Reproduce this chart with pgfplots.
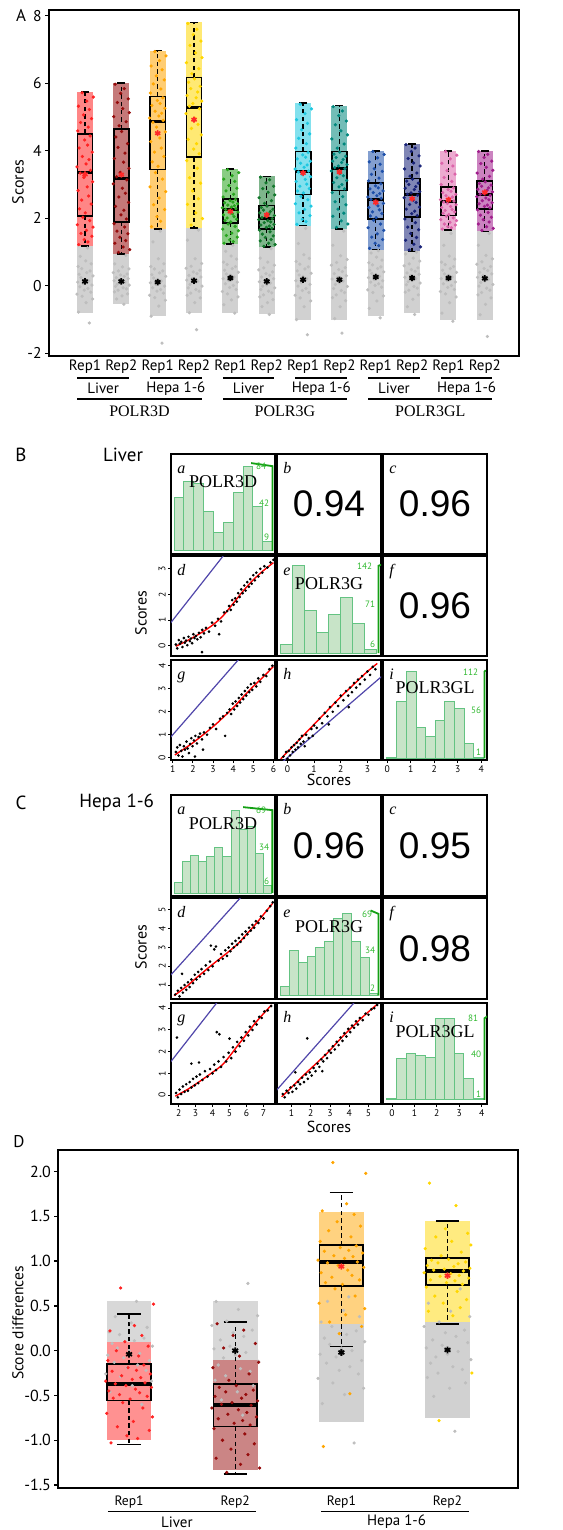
\documentclass[border=0pt]{standalone}
\usepackage{fontspec}
\setmainfont{PT Sans}
\newfontfamily\serf{Liberation Serif}
\newfontfamily\helv{Liberation Sans}
\usepackage{pgfplots}
\usepackage{pgfplotstable}
\usepgfplotslibrary{statistics}
\pgfplotsset{compat=1.18}

\definecolor{cA1}{RGB}{255,35,35}
\definecolor{cA2}{RGB}{150,12,12}
\definecolor{cA3}{RGB}{255,165,0}
\definecolor{cA4}{RGB}{255,215,0}
\definecolor{cA5}{RGB}{40,165,30}
\definecolor{cA6}{RGB}{20,120,45}
\definecolor{cA7}{RGB}{30,200,225}
\definecolor{cA8}{RGB}{0,135,125}
\definecolor{cA9}{RGB}{30,80,170}
\definecolor{cA10}{RGB}{25,35,120}
\definecolor{cA11}{RGB}{220,100,170}
\definecolor{cA12}{RGB}{160,30,140}
\definecolor{cgray}{RGB}{190,190,190}
\definecolor{histfill}{RGB}{200,228,200}
\definecolor{histedge}{RGB}{100,195,130}
\definecolor{gline}{RGB}{20,160,20}
\definecolor{glab}{RGB}{50,185,50}
\definecolor{bline}{RGB}{80,70,170}
\definecolor{starred}{RGB}{255,40,40}

\newcommand{\lett}{\serf\itshape\fontsize{8}{8}\selectfont}
\newcommand{\gene}{\serf\fontsize{9}{9}\selectfont}
\newcommand{\corr}{\helv\fontsize{18.5}{18.5}\selectfont}
\newcommand{\glabf}{\fontsize{4.6}{5}\selectfont}

\pgfplotsset{
  boxplot/draw/lower whisker/.code={%
    \draw[dash pattern=on 2.2pt off 1.6pt, line width=0.65pt]
      (boxplot box cs:\pgfplotsboxplotvalue{lower quartile},0.5) --
      (boxplot box cs:\pgfplotsboxplotvalue{lower whisker},0.5);
    \draw[line width=0.8pt]
      (boxplot whisker cs:\pgfplotsboxplotvalue{lower whisker},0) --
      (boxplot whisker cs:\pgfplotsboxplotvalue{lower whisker},1);
  },
  boxplot/draw/upper whisker/.code={%
    \draw[dash pattern=on 2.2pt off 1.6pt, line width=0.65pt]
      (boxplot box cs:\pgfplotsboxplotvalue{upper quartile},0.5) --
      (boxplot box cs:\pgfplotsboxplotvalue{upper whisker},0.5);
    \draw[line width=0.8pt]
      (boxplot whisker cs:\pgfplotsboxplotvalue{upper whisker},0) --
      (boxplot whisker cs:\pgfplotsboxplotvalue{upper whisker},1);
  },
  pt/.style={only marks, mark=*, mark size=0.6pt},
  dots/.style={only marks, mark=*, mark size=0.45pt, black},
  hist/.style={ybar interval, fill=histfill, draw=histedge, line width=0.5pt},
  fit/.style={red, line width=0.7pt, smooth},
  mx/.style={anchor=north west, scale only axis, width=52pt,
    axis line style={line width=0.85pt},
    xtick=\empty, ytick=\empty, tick pos=left,
    tick align=outside, major tick length=1.5pt,
    tick style={black, line width=0.45pt},
    ticklabel style={font=\fontsize{4.8}{5}\selectfont, inner sep=1pt},
    yticklabel style={rotate=90, anchor=south}},
  mxB/.style={mx, height=50pt},
  mxC/.style={mx, height=50.5pt},
}

\newcommand{\bxp}[6]{\addplot[black, boxplot prepared={draw position=#1,
  lower whisker=#2, lower quartile=#3, median=#4, upper quartile=#5,
  upper whisker=#6}] coordinates {};}
% pale area under the dense part of a jittered point cloud
\newcommand{\cloud}[5]{\addplot[draw=none, fill=#1]
  coordinates {(#2,#4) (#3,#4) (#3,#5) (#2,#5)} -- cycle;}

\newcommand{\gaxis}[3]{%
  \draw[gline, line width=0.9pt] ({rel axis cs:0.975,0}|-{axis cs:0,0})
    -- ({rel axis cs:0.975,0}|-{axis cs:0,#1}) -- ++(-1.5pt,0);
  \node[anchor=east, text=glab, font=\glabf, inner sep=0.6pt]
    at ({rel axis cs:0.93,0}|-{axis cs:0,#1}) {#1};
  \node[anchor=south east, text=glab, font=\glabf, inner sep=0.6pt]
    at ({rel axis cs:0.96,0}|-{axis cs:0,#2}) {#2};
  \node[anchor=south east, text=glab, font=\glabf, inner sep=0.6pt]
    at ({rel axis cs:0.96,0}|-{axis cs:0,#3}) {#3};
}
\newcommand{\plett}[1]{\node[anchor=base west, font=\lett, inner sep=0pt]
  at ([xshift=3pt,yshift=-9.5pt]rel axis cs:0,1) {#1};}

% panel A: coloured points above threshold
\pgfplotstableread{
dx dxb y1 y2 y3 y4 y5 y6 y7 y8 y9 y10 y11 y12
-0.17 -0.08 1.22 0.99 1.75 1.80 1.26 1.17 1.82 1.73 1.11 1.06 1.68 1.64
0.08 0.23 1.30 1.07 1.91 1.99 1.31 1.22 1.90 1.83 1.19 1.15 1.72 1.70
-0.02 0.05 1.37 1.15 2.05 2.16 1.36 1.26 1.97 1.92 1.26 1.23 1.75 1.75
0.19 -0.18 1.47 1.26 2.26 2.41 1.44 1.33 2.08 2.06 1.37 1.35 1.80 1.83
-0.11 0.12 1.55 1.34 2.40 2.58 1.49 1.37 2.16 2.15 1.44 1.43 1.83 1.89
0.04 -0.04 1.64 1.44 2.60 2.81 1.56 1.43 2.26 2.27 1.54 1.55 1.88 1.96
0.22 0.18 1.74 1.54 2.79 3.04 1.63 1.48 2.36 2.40 1.64 1.66 1.93 2.03
-0.21 -0.12 1.81 1.62 2.93 3.20 1.68 1.53 2.43 2.49 1.72 1.74 1.96 2.09
0.13 0.09 1.93 1.74 3.16 3.48 1.76 1.60 2.55 2.64 1.83 1.87 2.01 2.17
-0.06 -0.20 2.03 1.84 3.35 3.71 1.83 1.65 2.65 2.76 1.94 1.98 2.06 2.25
0.01 0.14 2.16 1.98 3.54 3.91 1.89 1.70 2.75 2.87 2.02 2.08 2.11 2.31
-0.15 -0.01 2.28 2.10 3.67 4.05 1.93 1.73 2.81 2.93 2.07 2.14 2.15 2.35
0.17 0.07 2.42 2.24 3.83 4.21 1.97 1.77 2.88 3.00 2.14 2.21 2.19 2.39
-0.09 -0.16 2.54 2.35 3.96 4.34 2.01 1.80 2.95 3.06 2.19 2.27 2.23 2.43
0.10 0.20 2.66 2.47 4.08 4.47 2.05 1.82 3.01 3.12 2.25 2.33 2.26 2.46
-0.19 -0.07 2.82 2.63 4.27 4.66 2.10 1.87 3.09 3.20 2.32 2.41 2.32 2.52
0.06 0.11 2.93 2.74 4.38 4.78 2.13 1.89 3.15 3.26 2.37 2.47 2.35 2.55
0.21 0.03 3.08 2.89 4.56 4.96 2.18 1.93 3.23 3.34 2.44 2.54 2.40 2.60
-0.03 -0.22 3.21 3.02 4.70 5.10 2.22 1.96 3.30 3.40 2.50 2.61 2.44 2.64
-0.13 0.15 3.34 3.14 4.84 5.25 2.26 1.99 3.37 3.47 2.56 2.68 2.48 2.68
0.15 -0.13 3.42 3.23 4.90 5.32 2.28 2.02 3.40 3.50 2.59 2.71 2.51 2.71
-0.22 -0.03 3.52 3.36 4.97 5.40 2.31 2.05 3.46 3.55 2.63 2.75 2.55 2.74
0.03 0.21 3.61 3.48 5.03 5.47 2.33 2.08 3.51 3.59 2.67 2.79 2.58 2.78
0.11 0.06 3.74 3.66 5.11 5.57 2.37 2.13 3.58 3.65 2.73 2.85 2.63 2.83
-0.07 -0.19 3.83 3.77 5.17 5.64 2.39 2.16 3.63 3.69 2.76 2.89 2.67 2.86
0.20 0.10 3.96 3.93 5.26 5.74 2.43 2.20 3.69 3.74 2.81 2.94 2.71 2.90
-0.16 -0.09 4.08 4.10 5.34 5.84 2.46 2.24 3.76 3.80 2.87 3.00 2.76 2.95
0.07 0.17 4.17 4.21 5.40 5.91 2.48 2.27 3.81 3.84 2.90 3.04 2.80 2.98
-0.01 -0.15 4.32 4.41 5.49 6.03 2.52 2.32 3.88 3.90 2.96 3.10 2.85 3.03
0.14 0.01 4.44 4.57 5.57 6.13 2.56 2.36 3.95 3.96 3.02 3.16 2.90 3.08
-0.20 -0.06 4.59 4.74 5.71 6.28 2.63 2.44 4.08 4.08 3.11 3.25 3.00 3.16
0.09 0.13 4.70 4.86 5.83 6.43 2.71 2.52 4.21 4.20 3.19 3.34 3.09 3.24
-0.12 -0.21 4.84 5.01 5.98 6.61 2.81 2.61 4.37 4.35 3.30 3.46 3.21 3.34
0.18 0.22 4.95 5.13 6.10 6.76 2.89 2.69 4.50 4.47 3.39 3.55 3.31 3.42
-0.04 0.04 5.06 5.25 6.22 6.90 2.97 2.77 4.62 4.59 3.47 3.64 3.41 3.51
0.12 -0.11 5.22 5.43 6.40 7.12 3.09 2.88 4.81 4.77 3.60 3.77 3.55 3.62
-0.18 0.19 5.32 5.54 6.51 7.25 3.16 2.95 4.92 4.88 3.67 3.85 3.63 3.69
0.05 -0.02 5.47 5.70 6.67 7.44 3.26 3.05 5.10 5.04 3.79 3.98 3.76 3.80
0.23 0.08 5.59 5.84 6.81 7.60 3.35 3.14 5.24 5.18 3.89 4.08 3.87 3.89
-0.08 -0.17 5.72 5.97 6.94 7.77 3.44 3.22 5.38 5.31 3.98 4.18 3.98 3.98
}\Acol

% panel A: grey points below threshold
\pgfplotstableread{
dx dxb g1 g2 g3 g4 g5 g6 g7 g8 g9 g10 g11 g12
0.12 0.07 -1.10 -0.55 -1.70 -1.30 -0.81 -0.85 -1.45 -1.40 -0.95 -0.85 -1.05 -1.50
-0.18 -0.13 -0.78 -0.39 -0.90 -0.80 -0.56 -0.62 -1.00 -0.97 -0.67 -0.62 -0.81 -0.86
0.03 0.02 -0.50 -0.30 -0.60 -0.50 -0.42 -0.50 -0.62 -0.62 -0.45 -0.40 -0.50 -0.55
0.21 0.17 -0.39 -0.24 -0.43 -0.36 -0.33 -0.41 -0.45 -0.44 -0.30 -0.27 -0.33 -0.36
-0.08 -0.19 -0.31 -0.18 -0.35 -0.28 -0.24 -0.33 -0.36 -0.35 -0.20 -0.19 -0.24 -0.27
-0.22 -0.09 -0.25 -0.13 -0.28 -0.22 -0.17 -0.27 -0.28 -0.27 -0.12 -0.13 -0.17 -0.20
0.16 0.14 -0.19 -0.09 -0.22 -0.16 -0.11 -0.21 -0.20 -0.20 -0.04 -0.07 -0.11 -0.13
-0.02 0.05 -0.13 -0.06 -0.16 -0.11 -0.05 -0.16 -0.14 -0.14 0.01 -0.02 -0.05 -0.07
0.08 -0.16 -0.08 -0.02 -0.11 -0.06 0.01 -0.11 -0.08 -0.08 0.06 0.03 0.01 -0.01
-0.14 0.22 -0.03 0.02 -0.06 -0.01 0.06 -0.06 -0.01 -0.02 0.11 0.08 0.06 0.04
0.19 -0.11 0.02 0.05 -0.01 0.04 0.11 -0.01 0.04 0.04 0.15 0.12 0.11 0.10
-0.05 0.00 0.06 0.08 0.04 0.08 0.16 0.03 0.09 0.09 0.19 0.16 0.16 0.14
-0.20 0.10 0.11 0.11 0.09 0.13 0.21 0.08 0.15 0.14 0.24 0.21 0.21 0.19
0.10 -0.20 0.15 0.15 0.14 0.17 0.26 0.12 0.21 0.20 0.28 0.25 0.26 0.25
0.00 -0.05 0.20 0.18 0.18 0.22 0.31 0.17 0.27 0.25 0.33 0.30 0.31 0.30
-0.11 0.19 0.24 0.21 0.23 0.26 0.35 0.21 0.32 0.30 0.37 0.34 0.35 0.35
0.22 -0.14 0.29 0.24 0.28 0.31 0.40 0.26 0.37 0.36 0.41 0.38 0.40 0.40
-0.16 0.08 0.34 0.28 0.33 0.36 0.46 0.31 0.44 0.42 0.46 0.43 0.46 0.45
0.05 -0.02 0.39 0.32 0.38 0.41 0.51 0.36 0.50 0.48 0.51 0.48 0.51 0.51
0.14 0.16 0.44 0.35 0.44 0.46 0.57 0.41 0.56 0.54 0.56 0.53 0.57 0.57
-0.09 -0.22 0.51 0.39 0.50 0.52 0.63 0.47 0.64 0.61 0.62 0.59 0.63 0.64
-0.19 -0.08 0.57 0.44 0.57 0.58 0.70 0.53 0.72 0.69 0.68 0.65 0.70 0.71
0.17 0.21 0.65 0.50 0.65 0.66 0.79 0.61 0.81 0.78 0.76 0.73 0.79 0.80
0.02 0.03 0.74 0.56 0.80 0.80 0.88 0.70 0.92 0.89 0.85 0.82 0.88 0.90
-0.13 -0.18 0.87 0.65 1.30 1.35 1.02 0.82 1.25 1.20 0.97 0.94 1.20 1.20
0.07 0.12 1.12 0.90 1.62 1.65 1.20 1.10 1.70 1.62 1.04 1.00 1.55 1.55
}\Agry

% panel D: coloured and grey score differences
\pgfplotstableread{
dx dxb d1 d2 d3 d4
-0.17 -0.08 -1.03 -1.36 -1.07 -0.78
0.08 0.23 -0.98 -1.31 -0.48 -0.25
-0.02 0.05 -0.95 -1.27 0.19 0.39
0.19 -0.18 -0.89 -1.20 0.27 0.44
-0.11 0.12 -0.85 -1.16 0.32 0.48
0.04 -0.04 -0.79 -1.10 0.40 0.53
0.22 0.18 -0.74 -1.04 0.47 0.57
-0.21 -0.12 -0.70 -1.00 0.53 0.61
0.13 0.09 -0.64 -0.93 0.61 0.66
-0.06 -0.20 -0.58 -0.87 0.69 0.71
0.01 0.14 -0.54 -0.83 0.74 0.74
-0.15 -0.01 -0.53 -0.81 0.76 0.76
0.17 0.07 -0.51 -0.78 0.79 0.78
-0.09 -0.16 -0.49 -0.76 0.82 0.79
0.10 0.20 -0.47 -0.74 0.84 0.81
-0.19 -0.07 -0.45 -0.71 0.87 0.83
0.06 0.11 -0.43 -0.69 0.90 0.84
0.21 0.03 -0.41 -0.66 0.93 0.86
-0.03 -0.22 -0.39 -0.64 0.95 0.87
-0.13 0.15 -0.37 -0.61 0.98 0.89
0.15 -0.13 -0.36 -0.60 0.99 0.90
-0.22 -0.03 -0.34 -0.58 1.01 0.91
0.03 0.21 -0.32 -0.56 1.03 0.92
0.11 0.06 -0.30 -0.53 1.05 0.94
-0.07 -0.19 -0.28 -0.51 1.06 0.95
0.20 0.10 -0.26 -0.49 1.09 0.97
-0.16 -0.09 -0.23 -0.46 1.11 0.98
0.07 0.17 -0.22 -0.44 1.12 0.99
-0.01 -0.15 -0.19 -0.41 1.15 1.01
0.14 0.01 -0.16 -0.39 1.17 1.02
-0.20 -0.06 -0.11 -0.33 1.22 1.06
0.09 0.13 -0.06 -0.26 1.27 1.10
-0.12 -0.21 0.00 -0.19 1.34 1.14
0.18 0.22 0.05 -0.13 1.39 1.18
-0.04 0.04 0.10 -0.06 1.44 1.22
0.12 -0.11 0.17 0.03 1.52 1.27
-0.18 0.19 0.22 0.08 1.56 1.31
0.05 -0.02 0.28 0.17 1.64 1.36
0.23 0.08 0.52 0.23 1.98 1.62
-0.08 -0.17 0.70 0.30 2.10 1.87
}\Dcol

\pgfplotstableread{
dx dxb e1 e2 e3 e4
0.12 0.07 -0.60 -0.72 -1.03 -0.90
-0.18 -0.13 -0.46 -0.55 -0.59 -0.51
0.03 0.02 -0.39 -0.46 -0.49 -0.42
0.21 0.17 -0.34 -0.39 -0.42 -0.36
-0.08 -0.19 -0.29 -0.33 -0.36 -0.30
-0.22 -0.09 -0.26 -0.28 -0.31 -0.25
0.16 0.14 -0.22 -0.23 -0.26 -0.21
-0.02 0.05 -0.19 -0.20 -0.22 -0.18
0.08 -0.16 -0.16 -0.16 -0.18 -0.14
-0.14 0.22 -0.13 -0.12 -0.14 -0.10
0.19 -0.11 -0.11 -0.08 -0.11 -0.07
-0.05 0.00 -0.08 -0.05 -0.07 -0.04
-0.20 0.10 -0.05 -0.02 -0.04 -0.01
0.10 -0.20 -0.03 0.02 0.00 0.03
0.00 -0.05 0.00 0.05 0.03 0.06
-0.11 0.19 0.03 0.08 0.07 0.09
0.22 -0.14 0.05 0.12 0.10 0.12
-0.16 0.08 0.08 0.16 0.14 0.16
0.05 -0.02 0.11 0.20 0.18 0.20
0.14 0.16 0.14 0.23 0.22 0.23
-0.09 -0.22 0.18 0.28 0.27 0.27
-0.19 -0.08 0.21 0.33 0.32 0.32
0.17 0.21 0.26 0.39 0.38 0.38
0.02 0.03 0.31 0.46 0.45 0.44
-0.13 -0.18 0.38 0.55 0.55 0.53
0.07 0.12 0.55 0.75 0.60 0.69
}\Dgry

\begin{document}
\begin{tikzpicture}
\useasboundingbox (0,0) rectangle (281pt,-765pt);

% ---------------- A ----------------
\begin{axis}[at={(24.5pt,-5pt)}, anchor=north west, scale only axis,
  width=235pt, height=173pt,
  xmin=0.01, xmax=12.94, ymin=-2.08, ymax=8.17,
  xtick=\empty, ytick={-2,0,2,4,6,8}, yticklabels={-2,0,2,4,6,8},
  ytick pos=left, tick align=outside, major tick length=2pt,
  tick style={black, line width=0.7pt},
  yticklabel style={font=\fontsize{7.8}{8}\selectfont, inner sep=1.5pt},
  axis line style={line width=0.9pt},
  boxplot/draw direction=y,
  boxplot/box extend=0.42, boxplot/whisker extend=0.22,
  boxplot/every median/.style={line width=1.5pt},
  boxplot/every box/.style={line width=0.8pt},
  clip=false]
\cloud{cgray!70}{0.78}{1.22}{-0.80}{1.18}
\cloud{cgray!70}{1.78}{2.22}{-0.55}{0.95}
\cloud{cgray!70}{2.78}{3.22}{-0.90}{1.68}
\cloud{cgray!70}{3.78}{4.22}{-0.80}{1.72}
\cloud{cgray!70}{4.78}{5.22}{-0.80}{1.23}
\cloud{cgray!70}{5.78}{6.22}{-0.85}{1.15}
\cloud{cgray!70}{6.78}{7.22}{-1.00}{1.78}
\cloud{cgray!70}{7.78}{8.22}{-1.00}{1.68}
\cloud{cgray!70}{8.78}{9.22}{-0.90}{1.07}
\cloud{cgray!70}{9.78}{10.22}{-0.80}{1.02}
\cloud{cgray!70}{10.78}{11.22}{-1.00}{1.66}
\cloud{cgray!70}{11.78}{12.22}{-1.00}{1.61}
\cloud{cA1!55}{0.78}{1.22}{1.18}{5.74}
\cloud{cA2!55}{1.78}{2.22}{0.95}{6.00}
\cloud{cA3!55}{2.78}{3.22}{1.68}{6.97}
\cloud{cA4!55}{3.78}{4.22}{1.72}{7.80}
\cloud{cA5!55}{4.78}{5.22}{1.23}{3.46}
\cloud{cA6!55}{5.78}{6.22}{1.15}{3.24}
\cloud{cA7!55}{6.78}{7.22}{1.78}{5.41}
\cloud{cA8!55}{7.78}{8.22}{1.68}{5.34}
\cloud{cA9!55}{8.78}{9.22}{1.07}{4.00}
\cloud{cA10!55}{9.78}{10.22}{1.02}{4.20}
\cloud{cA11!55}{10.78}{11.22}{1.66}{4.00}
\cloud{cA12!55}{11.78}{12.22}{1.61}{4.00}
\pgfplotsinvokeforeach{1,3,5,7,9,11}{
  \addplot[pt, color=cgray] table[x expr=\thisrow{dx}+#1, y=g#1] {\Agry};
  \addplot[pt, color=cA#1] table[x expr=\thisrow{dx}+#1, y=y#1] {\Acol};}
\pgfplotsinvokeforeach{2,4,6,8,10,12}{
  \addplot[pt, color=cgray] table[x expr=\thisrow{dxb}+#1, y=g#1] {\Agry};
  \addplot[pt, color=cA#1] table[x expr=\thisrow{dxb}+#1, y=y#1] {\Acol};}
\bxp{1}{1.18}{2.07}{3.37}{4.50}{5.74}
\bxp{2}{0.95}{1.89}{3.17}{4.64}{6.00}
\bxp{3}{1.68}{3.44}{4.87}{5.61}{6.97}
\bxp{4}{1.72}{3.81}{5.28}{6.17}{7.80}
\bxp{5}{1.23}{1.86}{2.27}{2.57}{3.46}
\bxp{6}{1.15}{1.68}{2.00}{2.38}{3.24}
\bxp{7}{1.78}{2.70}{3.38}{3.98}{5.41}
\bxp{8}{1.68}{2.82}{3.48}{3.98}{5.34}
\bxp{9}{1.07}{1.98}{2.57}{3.04}{4.00}
\bxp{10}{1.02}{2.03}{2.69}{3.18}{4.20}
\bxp{11}{1.66}{2.08}{2.49}{2.92}{4.00}
\bxp{12}{1.61}{2.28}{2.69}{3.10}{4.00}
\addplot[only marks, mark=asterisk, mark size=1.5pt, color=starred, line width=0.8pt]
  coordinates {(1,3.30) (2,3.29) (3,4.52) (4,4.92) (5,2.20) (6,2.10)
  (7,3.34) (8,3.37) (9,2.47) (10,2.58) (11,2.55) (12,2.77)};
\addplot[only marks, mark=asterisk, mark size=1.6pt, color=black, line width=0.9pt]
  coordinates {(1,0.13) (2,0.13) (3,0.11) (4,0.15) (5,0.23) (6,0.13)
  (7,0.18) (8,0.18) (9,0.26) (10,0.23) (11,0.23) (12,0.22)};
\pgfplotsinvokeforeach{1,3,5,7,9,11}{
  \node[font=\fontsize{7.5}{8}\selectfont] at (axis cs:#1,-2.40) {Rep1};}
\pgfplotsinvokeforeach{2,4,6,8,10,12}{
  \node[font=\fontsize{7.5}{8}\selectfont] at (axis cs:#1,-2.40) {Rep2};}
\draw[line width=0.8pt] (axis cs:0.79,-2.74) -- (axis cs:2.21,-2.74);
\draw[line width=0.8pt] (axis cs:2.79,-2.74) -- (axis cs:4.21,-2.74);
\draw[line width=0.8pt] (axis cs:4.79,-2.74) -- (axis cs:6.21,-2.74);
\draw[line width=0.8pt] (axis cs:6.79,-2.74) -- (axis cs:8.21,-2.74);
\draw[line width=0.8pt] (axis cs:8.79,-2.74) -- (axis cs:10.21,-2.74);
\draw[line width=0.8pt] (axis cs:10.79,-2.74) -- (axis cs:12.21,-2.74);
\draw[line width=0.8pt] (axis cs:0.79,-3.35) -- (axis cs:4.21,-3.35);
\draw[line width=0.8pt] (axis cs:4.79,-3.35) -- (axis cs:8.21,-3.35);
\draw[line width=0.8pt] (axis cs:8.79,-3.35) -- (axis cs:12.21,-3.35);
\pgfplotsinvokeforeach{1.5,5.5,9.5}{
  \node[font=\fontsize{7.5}{8}\selectfont] at (axis cs:#1,-3.04) {Liver};}
\pgfplotsinvokeforeach{3.5,7.5,11.5}{
  \node[font=\fontsize{7.5}{8}\selectfont] at (axis cs:#1,-3.04) {Hepa 1-6};}
\node[font=\serf\fontsize{8}{8}\selectfont] at (axis cs:2.5,-3.73) {POLR3D};
\node[font=\serf\fontsize{8}{8}\selectfont] at (axis cs:6.5,-3.73) {POLR3G};
\node[font=\serf\fontsize{8}{8}\selectfont] at (axis cs:10.5,-3.73) {POLR3GL};
\end{axis}

% ---------------- B ----------------
\begin{axis}[mxB, at={(85.5pt,-227pt)}, xmin=0.91, xmax=6.08, ymin=-3, ymax=96]
\addplot[hist] coordinates {(1.06,53) (1.55,69) (2.04,67) (2.53,39) (3.02,18)
  (3.51,28) (4.00,58) (4.49,84) (4.98,44) (5.47,9) (5.96,9)};
\gaxis{84}{42}{9}
\plett{a}
\node[font=\gene] at (rel axis cs:0.5,0.72) {POLR3D};
\end{axis}
\begin{axis}[mxB, at={(138.5pt,-227pt)}, xmin=0, xmax=1, ymin=0, ymax=1]
\addplot[draw=none] coordinates {(0,0)};
\plett{b}
\node[font=\corr] at (rel axis cs:0.5,0.5) {0.94};
\end{axis}
\begin{axis}[mxB, at={(191.5pt,-227pt)}, xmin=0, xmax=1, ymin=0, ymax=1]
\addplot[draw=none] coordinates {(0,0)};
\plett{c}
\node[font=\corr] at (rel axis cs:0.5,0.5) {0.96};
\end{axis}

\begin{axis}[mxB, at={(85.5pt,-278pt)}, xmin=0.91, xmax=6.08, ymin=-0.40, ymax=3.50,
  ytick={0,1,2,3}, yticklabels={0,1,2,3}]
\addplot[bline, line width=0.6pt] coordinates {(-1,-1) (8,8)};
\addplot[dots] coordinates {(1.15,0.05) (1.22,-0.10) (1.30,0.22) (1.35,0.08)
  (1.42,0.15) (1.48,-0.05) (1.55,0.30) (1.60,0.12) (1.66,0.20) (1.72,0.02)
  (1.78,0.35) (1.85,0.18) (1.90,0.28) (1.96,0.10) (2.02,0.45) (2.08,0.30)
  (2.15,0.38) (2.22,0.25) (2.30,0.50) (2.38,0.33) (2.46,0.62) (2.55,0.48)
  (2.65,0.70) (2.80,0.55) (2.95,0.90) (3.10,0.78) (3.25,1.05) (3.40,0.95)
  (3.55,1.30) (3.70,1.35) (3.80,1.55) (3.88,1.40) (3.95,1.78) (4.02,1.60)
  (4.10,1.85) (4.18,1.72) (4.25,2.05) (4.32,1.90) (4.40,2.20) (4.47,2.05)
  (4.55,2.35) (4.62,2.15) (4.70,2.48) (4.78,2.30) (4.85,2.60) (4.92,2.42)
  (5.00,2.75) (5.08,2.55) (5.15,2.85) (5.25,2.70) (5.35,3.00) (5.45,2.85)
  (5.55,3.10) (5.70,3.05) (5.85,3.25) (6.00,3.35) (2.45,-0.25) (3.30,0.45)};
\addplot[fit] coordinates {(1.15,-0.02) (1.6,0.15) (2.0,0.32) (2.5,0.55) (3.0,0.82)
  (3.5,1.17) (4.0,1.65) (4.5,2.14) (5.0,2.57) (5.5,2.93) (6.0,3.24)};
\plett{d}
\end{axis}
\begin{axis}[mxB, at={(138.5pt,-278pt)}, xmin=-0.39, xmax=3.51, ymin=-4.8, ymax=158]
\addplot[hist] coordinates {(-0.25,14) (0.20,142) (0.65,70) (1.10,33) (1.55,63)
  (2.00,91) (2.45,48) (2.90,6) (3.35,6)};
\gaxis{142}{71}{6}
\plett{e}
\node[font=\gene] at (rel axis cs:0.5,0.72) {POLR3G};
\end{axis}
\begin{axis}[mxB, at={(191.5pt,-278pt)}, xmin=0, xmax=1, ymin=0, ymax=1]
\addplot[draw=none] coordinates {(0,0)};
\plett{f}
\node[font=\corr] at (rel axis cs:0.5,0.5) {0.96};
\end{axis}

\begin{axis}[mxB, at={(85.5pt,-330pt)}, xmin=0.91, xmax=6.08, ymin=-0.10, ymax=4.25,
  xtick={1,2,3,4,5,6}, xticklabels={1,2,3,4,5,6},
  ytick={0,1,2,3,4}, yticklabels={0,1,2,3,4}]
\addplot[bline, line width=0.6pt] coordinates {(-1,-1) (8,8)};
\addplot[dots] coordinates {(1.15,0.25) (1.22,0.45) (1.28,0.10) (1.35,0.55)
  (1.42,0.30) (1.48,0.05) (1.55,0.50) (1.60,0.35) (1.68,0.70) (1.74,0.40)
  (1.80,0.20) (1.86,0.60) (1.92,0.85) (1.98,0.50) (2.05,0.75) (2.12,0.95)
  (2.20,0.62) (2.28,0.90) (2.35,1.05) (2.45,0.80) (2.55,1.10) (2.70,1.00)
  (2.85,1.30) (3.00,1.45) (3.15,1.25) (3.35,1.70) (3.50,1.80) (3.60,0.95)
  (3.70,1.95) (3.82,2.10) (3.90,1.90) (3.98,2.35) (4.05,2.10) (4.12,2.45)
  (4.20,2.25) (4.28,2.60) (4.35,2.40) (4.42,2.75) (4.50,2.55) (4.58,2.90)
  (4.65,2.70) (4.72,3.05) (4.80,2.85) (4.88,3.20) (4.95,2.95) (5.05,3.25)
  (5.15,3.10) (5.25,3.45) (5.35,3.30) (5.50,3.60) (5.65,3.55) (5.80,3.85)
  (5.95,4.00) (2.10,0.05) (2.50,0.35)};
\addplot[fit] coordinates {(1.1,0.12) (2.0,0.65) (3.0,1.35) (3.5,1.75) (4.0,2.17)
  (4.5,2.65) (5.0,3.10) (5.5,3.52) (6.0,3.97)};
\plett{g}
\end{axis}
\begin{axis}[mxB, at={(138.5pt,-330pt)}, xmin=-0.39, xmax=3.51, ymin=-0.10, ymax=4.25,
  xtick={0,1,2,3}, xticklabels={0,1,2,3}]
\addplot[bline, line width=0.6pt] coordinates {(-1,-1) (8,8)};
\addplot[dots] coordinates {(-0.15,0.05) (-0.05,0.25) (0.00,-0.05) (0.05,0.30)
  (0.10,0.10) (0.15,0.45) (0.20,0.25) (0.25,0.55) (0.30,0.35) (0.35,0.65)
  (0.40,0.45) (0.45,0.80) (0.50,0.60) (0.55,0.95) (0.60,0.70) (0.65,0.50)
  (0.70,1.00) (0.80,0.85) (0.90,1.25) (1.00,1.40) (1.10,1.30) (1.20,1.70)
  (1.30,1.50) (1.40,1.95) (1.50,1.80) (1.60,2.20) (1.70,2.00) (1.80,2.40)
  (1.90,2.25) (2.00,2.70) (2.10,2.50) (2.20,2.90) (2.28,2.70) (2.35,3.05)
  (2.42,2.85) (2.50,3.25) (2.58,3.05) (2.65,3.40) (2.72,3.20) (2.80,3.55)
  (2.90,3.40) (3.00,3.75) (3.10,3.60) (3.20,3.95) (3.30,3.85) (0.95,0.95)
  (1.55,1.45) (2.30,2.20)};
\addplot[fit] coordinates {(-0.25,-0.05) (0.5,0.85) (1.0,1.45) (1.5,2.05) (2.0,2.65)
  (2.5,3.20) (3.0,3.75) (3.37,4.10)};
\plett{h}
\end{axis}
\begin{axis}[mxB, at={(191.5pt,-330pt)}, xmin=-0.18, xmax=4.24, ymin=-2.2, ymax=127.3,
  xtick={0,1,2,3,4}, xticklabels={0,1,2,3,4}]
\addplot[hist] coordinates {(-0.04,1) (0.39,74) (0.82,112) (1.23,40) (1.63,28)
  (2.04,49) (2.44,74) (2.85,64) (3.27,19) (3.68,1) (4.09,1)};
\gaxis{112}{56}{1}
\plett{i}
\node[font=\gene] at (rel axis cs:0.5,0.72) {POLR3GL};
\end{axis}

% ---------------- C ----------------
\begin{axis}[mxC, at={(85.5pt,-397.5pt)}, xmin=1.55, xmax=7.68, ymin=-2.5, ymax=81.6]
\addplot[hist] coordinates {(1.73,9) (2.21,26) (2.69,31) (3.17,26) (3.65,30)
  (4.13,38) (4.61,30) (5.09,69) (5.57,53) (6.05,55) (6.53,33) (7.01,6) (7.49,6)};
\gaxis{69}{34}{6}
\plett{a}
\node[font=\gene] at (rel axis cs:0.5,0.72) {POLR3D};
\end{axis}
\begin{axis}[mxC, at={(138.5pt,-397.5pt)}, xmin=0, xmax=1, ymin=0, ymax=1]
\addplot[draw=none] coordinates {(0,0)};
\plett{b}
\node[font=\corr] at (rel axis cs:0.5,0.5) {0.96};
\end{axis}
\begin{axis}[mxC, at={(191.5pt,-397.5pt)}, xmin=0, xmax=1, ymin=0, ymax=1]
\addplot[draw=none] coordinates {(0,0)};
\plett{c}
\node[font=\corr] at (rel axis cs:0.5,0.5) {0.95};
\end{axis}

\begin{axis}[mxC, at={(85.5pt,-449pt)}, xmin=1.55, xmax=7.68, ymin=0.26, ymax=5.63,
  ytick={1,2,3,4,5}, yticklabels={1,2,3,4,5}]
\addplot[bline, line width=0.6pt] coordinates {(-1,-1) (9,9)};
\addplot[dots] coordinates {(1.80,0.50) (1.95,0.70) (2.05,0.40) (2.15,0.85)
  (2.25,0.60) (2.35,1.00) (2.45,0.75) (2.55,1.15) (2.65,0.90) (2.75,1.30)
  (2.85,1.10) (2.95,1.55) (3.05,1.30) (3.15,1.70) (3.25,1.45) (3.35,1.85)
  (3.50,1.60) (3.60,2.05) (3.75,1.80) (3.85,2.25) (4.00,2.00) (4.10,2.90)
  (4.20,3.05) (4.35,2.30) (4.50,2.65) (4.60,2.40) (4.75,2.85) (4.85,2.55)
  (4.95,3.00) (5.05,2.80) (5.15,3.20) (5.25,3.00) (5.35,3.35) (5.45,3.15)
  (5.55,3.50) (5.65,3.30) (5.75,3.70) (5.85,3.50) (5.95,3.85) (6.05,3.70)
  (6.15,4.05) (6.25,3.90) (6.35,4.20) (6.45,4.05) (6.55,4.40) (6.70,4.30)
  (6.85,4.65) (7.00,4.55) (7.20,4.95) (7.40,5.20) (7.55,5.40) (2.20,1.60)
  (3.90,3.10)};
\addplot[fit] coordinates {(1.73,0.44) (2.5,0.95) (3.0,1.35) (4.0,2.10) (4.87,2.72)
  (5.5,3.20) (6.0,3.70) (6.5,4.20) (7.0,4.75) (7.54,5.35)};
\plett{d}
\end{axis}
\begin{axis}[mxC, at={(138.5pt,-449pt)}, xmin=0.25, xmax=5.65, ymin=-2.8, ymax=82.3]
\addplot[hist] coordinates {(0.43,8) (0.89,38) (1.35,28) (1.81,33) (2.27,41)
  (2.73,46) (3.19,65) (3.65,69) (4.11,46) (4.57,32) (5.03,2) (5.49,2)};
\gaxis{69}{34}{2}
\plett{e}
\node[font=\gene] at (rel axis cs:0.5,0.72) {POLR3G};
\end{axis}
\begin{axis}[mxC, at={(191.5pt,-449pt)}, xmin=0, xmax=1, ymin=0, ymax=1]
\addplot[draw=none] coordinates {(0,0)};
\plett{f}
\node[font=\corr] at (rel axis cs:0.5,0.5) {0.98};
\end{axis}

\begin{axis}[mxC, at={(85.5pt,-501.5pt)}, xmin=1.55, xmax=7.68, ymin=-0.41, ymax=4.24,
  xtick={2,3,4,5,6,7}, xticklabels={2,3,4,5,6,7},
  ytick={0,1,2,3,4}, yticklabels={0,1,2,3,4}]
\addplot[bline, line width=0.6pt] coordinates {(-1,-1) (9,9)};
\addplot[dots] coordinates {(1.85,0.10) (1.95,-0.10) (2.05,0.25) (2.15,0.05)
  (2.25,0.40) (2.35,0.15) (2.45,0.50) (2.55,0.20) (2.65,0.60) (2.75,0.35)
  (2.85,0.75) (2.95,0.45) (3.05,0.85) (3.15,0.55) (3.25,0.95) (3.40,0.70)
  (3.55,1.10) (3.70,0.85) (3.85,1.20) (4.00,1.00) (4.10,1.40) (4.20,1.15)
  (4.35,1.55) (4.50,1.30) (4.65,1.75) (4.80,1.55) (4.95,1.95) (5.10,1.70)
  (5.20,2.20) (5.35,2.00) (5.45,2.45) (5.60,2.25) (5.70,2.65) (5.85,2.50)
  (5.95,2.90) (6.10,2.75) (6.20,3.15) (6.35,3.00) (6.45,3.40) (6.60,3.25)
  (6.75,3.60) (6.90,3.55) (7.05,3.85) (7.25,3.90) (7.45,4.10) (1.90,2.65)
  (4.25,2.90) (4.40,2.80) (2.75,1.45) (3.20,1.50) (5.00,2.60)};
\addplot[fit] coordinates {(1.8,-0.05) (2.5,0.25) (3.0,0.50) (4.0,1.05) (4.66,1.46)
  (5.5,2.30) (6.0,2.80) (6.5,3.30) (7.0,3.75) (7.48,4.15)};
\plett{g}
\end{axis}
\begin{axis}[mxC, at={(138.5pt,-501.5pt)}, xmin=0.25, xmax=5.65, ymin=-0.41, ymax=4.24,
  xtick={1,2,3,4,5}, xticklabels={1,2,3,4,5}]
\addplot[bline, line width=0.6pt] coordinates {(-1,-1) (9,9)};
\addplot[dots] coordinates {(0.55,0.05) (0.65,-0.10) (0.75,0.20) (0.85,0.10)
  (0.95,0.35) (1.05,0.15) (1.15,0.45) (1.25,0.30) (1.35,0.60) (1.45,0.50)
  (1.55,0.80) (1.65,0.60) (1.75,0.95) (1.85,0.75) (1.95,1.05) (2.05,0.90)
  (2.15,1.25) (2.25,1.10) (2.35,1.45) (2.45,1.30) (2.55,1.65) (2.65,1.55)
  (2.75,1.85) (2.85,1.70) (2.95,2.05) (3.05,1.95) (3.15,2.25) (3.25,2.10)
  (3.35,2.45) (3.45,2.30) (3.55,2.65) (3.65,2.50) (3.75,2.85) (3.85,2.70)
  (3.95,3.05) (4.05,2.90) (4.15,3.20) (4.25,3.10) (4.35,3.40) (4.45,3.25)
  (4.55,3.55) (4.70,3.45) (4.85,3.75) (5.00,3.70) (5.15,3.95) (5.30,4.00)
  (5.45,4.15) (1.82,2.61) (1.20,1.05) (2.60,1.10)};
\addplot[fit] coordinates {(0.49,-0.08) (1.0,0.35) (1.5,0.80) (2.0,1.22) (2.84,1.92)
  (3.5,2.55) (4.0,3.00) (4.7,3.60) (5.41,4.15)};
\plett{h}
\end{axis}
\begin{axis}[mxC, at={(191.5pt,-501.5pt)}, xmin=-0.40, xmax=4.24, ymin=-4, ymax=96.2,
  xtick={0,1,2,3,4}, xticklabels={0,1,2,3,4}]
\addplot[hist] coordinates {(-0.23,1) (0.20,41) (0.63,46) (1.06,44) (1.49,42)
  (1.92,81) (2.35,81) (2.78,46) (3.21,21) (3.64,1) (4.07,1)};
\gaxis{81}{40}{1}
\plett{i}
\node[font=\gene] at (rel axis cs:0.5,0.72) {POLR3GL};
\end{axis}

% ---------------- D ----------------
\begin{axis}[at={(29.15pt,-575pt)}, anchor=north west, scale only axis,
  width=230pt, height=168.85pt,
  xmin=0.333, xmax=4.667, ymin=-1.53, ymax=2.24,
  xtick=\empty, ytick={-1.5,-1,-0.5,0,0.5,1,1.5,2},
  yticklabels={-1.5,-1.0,-0.5,0.0,0.5,1.0,1.5,2.0},
  ytick pos=left, tick align=outside, major tick length=2pt,
  tick style={black, line width=0.7pt},
  yticklabel style={font=\fontsize{8}{8}\selectfont, inner sep=1.5pt},
  axis line style={line width=0.9pt},
  boxplot/draw direction=y,
  boxplot/box extend=0.41, boxplot/whisker extend=0.22,
  boxplot/every median/.style={line width=2pt},
  boxplot/every box/.style={line width=0.85pt},
  clip=false]
\cloud{cgray!60}{0.79}{1.21}{0.10}{0.55}
\cloud{cgray!60}{1.79}{2.21}{-0.10}{0.55}
\cloud{cgray!70}{2.79}{3.21}{-0.80}{0.30}
\cloud{cgray!70}{3.79}{4.21}{-0.75}{0.32}
\cloud{cA1!50}{0.79}{1.21}{-1.00}{0.10}
\cloud{cA2!50}{1.79}{2.21}{-1.33}{-0.10}
\cloud{cA3!50}{2.79}{3.21}{0.30}{1.55}
\cloud{cA4!50}{3.79}{4.21}{0.32}{1.45}
\pgfplotsinvokeforeach{1,3}{
  \addplot[pt, color=cgray] table[x expr=\thisrow{dx}+#1, y=e#1] {\Dgry};
  \addplot[pt, color=cA#1] table[x expr=\thisrow{dx}+#1, y=d#1] {\Dcol};}
\pgfplotsinvokeforeach{2,4}{
  \addplot[pt, color=cgray] table[x expr=\thisrow{dxb}+#1, y=e#1] {\Dgry};
  \addplot[pt, color=cA#1] table[x expr=\thisrow{dxb}+#1, y=d#1] {\Dcol};}
\bxp{1}{-1.048}{-0.557}{-0.371}{-0.152}{0.406}
\bxp{2}{-1.38}{-0.845}{-0.606}{-0.375}{0.317}
\bxp{3}{0.046}{0.72}{0.986}{1.176}{1.764}
\bxp{4}{0.301}{0.733}{0.893}{1.031}{1.448}
\addplot[only marks, mark=asterisk, mark size=1.6pt, color=starred, line width=0.8pt]
  coordinates {(3,0.94) (4,0.837)};
\addplot[only marks, mark=asterisk, mark size=1.7pt, color=black, line width=0.9pt]
  coordinates {(1,-0.04) (2,0.0) (3,-0.02) (4,0.008)};
\node[font=\fontsize{6.8}{7}\selectfont] at (axis cs:1,-1.685) {Rep1};
\node[font=\fontsize{6.8}{7}\selectfont] at (axis cs:2,-1.685) {Rep2};
\node[font=\fontsize{6.8}{7}\selectfont] at (axis cs:3,-1.685) {Rep1};
\node[font=\fontsize{6.8}{7}\selectfont] at (axis cs:4,-1.685) {Rep2};
\draw[line width=0.8pt] (axis cs:0.80,-1.797) -- (axis cs:2.20,-1.797);
\draw[line width=0.8pt] (axis cs:2.81,-1.797) -- (axis cs:4.20,-1.797);
\node[font=\fontsize{7.5}{8}\selectfont] at (axis cs:1.45,-1.912) {Liver};
\node[font=\fontsize{7.5}{8}\selectfont] at (axis cs:3.52,-1.912) {Hepa 1-6};
\end{axis}

% ---------------- panel labels ----------------
\node[font=\fontsize{8.5}{9}\selectfont] at (10.5pt,-7.5pt) {A};
\node[rotate=90, font=\fontsize{8}{8}\selectfont] at (9pt,-91pt) {Scores};
\node[font=\fontsize{9.5}{10}\selectfont] at (10.5pt,-227.5pt) {B};
\node[font=\fontsize{9.5}{10}\selectfont] at (61.5pt,-227.5pt) {Liver};
\node[font=\fontsize{8}{8}\selectfont] at (164.5pt,-390pt) {Scores};
\node[rotate=90, font=\fontsize{8}{8}\selectfont] at (70.5pt,-306.5pt) {Scores};
\node[font=\fontsize{9.5}{10}\selectfont] at (10.5pt,-401.5pt) {C};
\node[font=\fontsize{9.5}{10}\selectfont] at (58.35pt,-401.5pt) {Hepa 1-6};
\node[font=\fontsize{8}{8}\selectfont] at (164.5pt,-563.5pt) {Scores};
\node[rotate=90, font=\fontsize{8}{8}\selectfont] at (70.5pt,-473.5pt) {Scores};
\node[font=\fontsize{8.5}{9}\selectfont] at (9.5pt,-571pt) {D};
\node[rotate=90, font=\fontsize{7.8}{8}\selectfont] at (9pt,-661.5pt) {Score differences};
\end{tikzpicture}
\end{document}
